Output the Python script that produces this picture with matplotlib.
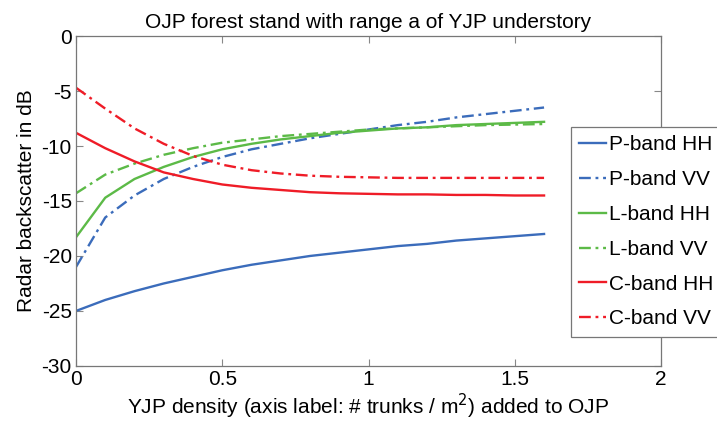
import matplotlib
matplotlib.use("Agg")
import matplotlib.pyplot as plt
import numpy as np

plt.rcParams['font.family'] = ['Liberation Sans', 'DejaVu Sans']

density = [0.0, 0.1, 0.2, 0.3, 0.4, 0.5, 0.6, 0.7, 0.8, 0.9, 1.0, 1.1, 1.2, 1.3, 1.4, 1.5, 1.6]
p_hh = [-25.0, -24.0, -23.2, -22.5, -21.9, -21.3, -20.8, -20.4, -20.0, -19.7, -19.4, -19.1, -18.9, -18.6, -18.4, -18.2, -18.0]
p_vv = [-21.0, -16.5, -14.5, -13.0, -11.9, -11.0, -10.3, -9.8, -9.3, -8.9, -8.5, -8.1, -7.8, -7.4, -7.1, -6.8, -6.5]
l_hh = [-18.3, -14.7, -13.0, -11.9, -11.0, -10.3, -9.8, -9.4, -9.1, -8.8, -8.6, -8.4, -8.3, -8.1, -8.0, -7.9, -7.8]
l_vv = [-14.3, -12.6, -11.6, -10.8, -10.2, -9.7, -9.4, -9.1, -8.9, -8.7, -8.5, -8.4, -8.3, -8.2, -8.1, -8.05, -8.0]
c_hh = [-8.8, -10.2, -11.4, -12.4, -13.0, -13.5, -13.8, -14.0, -14.2, -14.3, -14.35, -14.4, -14.4, -14.45, -14.45, -14.5, -14.5]
c_vv = [-4.7, -6.6, -8.4, -9.8, -10.9, -11.7, -12.2, -12.5, -12.7, -12.8, -12.85, -12.9, -12.9, -12.9, -12.9, -12.9, -12.9]

labels = ['P-band HH', 'P-band VV', 'L-band HH', 'L-band VV', 'C-band HH', 'C-band VV']
series = [p_hh, p_vv, l_hh, l_vv, c_hh, c_vv]

blue = '#3b6cbb'
green = '#5cba47'
red = '#ef1c27'
colors = [blue, blue, green, green, red, red]
dashdot = (0, (5, 2, 1.2, 2))
styles = ['-', dashdot, '-', dashdot, '-', dashdot]

fs = 15

fig = plt.figure(figsize=(7.17, 4.29), dpi=100)
ax = fig.add_axes([0.106, 0.147, 0.816, 0.769])

for y, lab, c, ls in zip(series, labels, colors, styles):
    ax.plot(density, y, color=c, linestyle=ls, linewidth=1.7, label=lab)

ax.set_xlim(0, 2)
ax.set_ylim(-30, 0)
ax.set_xticks([0, 0.5, 1, 1.5, 2])
ax.set_xticklabels(['0', '0.5', '1', '1.5', '2'])
ax.set_yticks([-30, -25, -20, -15, -10, -5, 0])
ax.set_yticklabels(['-30', '-25', '-20', '-15', '-10', '-5', '0'])
ax.tick_params(direction='in', top=True, right=True, labelsize=fs, color='#888888', length=5, width=0.8, pad=3)
for s in ax.spines.values():
    s.set_color('#777777')
    s.set_linewidth(0.9)

ax.set_title('OJP forest stand with range a of YJP understory', fontsize=fs, pad=6)
ax.set_xlabel('YJP density (axis label: # trunks / m$^2$) added to OJP', fontsize=fs, labelpad=2)
ax.set_ylabel('Radar backscatter in dB', fontsize=fs, labelpad=4)

leg = fig.legend(loc='upper left', bbox_to_anchor=(0.796, 0.704), fontsize=fs,
                 frameon=True, fancybox=False, edgecolor='#777777', framealpha=1,
                 handlelength=1.3, handletextpad=0.15, borderpad=0.4, labelspacing=0.76,
                 borderaxespad=0)
leg.get_frame().set_linewidth(0.9)

fig.savefig('out.png', dpi=100)
